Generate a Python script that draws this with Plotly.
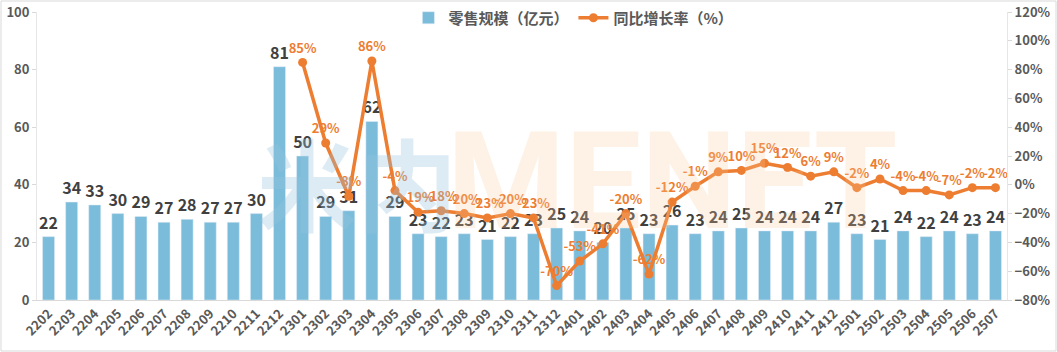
import plotly.graph_objects as go

months = ["2202","2203","2204","2205","2206","2207","2208","2209","2210","2211","2212",
          "2301","2302","2303","2304","2305","2306","2307","2308","2309","2310","2311","2312",
          "2401","2402","2403","2404","2405","2406","2407","2408","2409","2410","2411","2412",
          "2501","2502","2503","2504","2505","2506","2507"]
retail = [22,34,33,30,29,27,28,27,27,30,81,
          50,29,31,62,29,23,22,23,21,22,23,25,
          24,20,25,23,26,23,24,25,24,24,24,27,
          23,21,24,22,24,23,24]
growth = [None]*11 + [85,29,-8,86,-4,-19,-18,-20,-23,-20,-23,-70,
                      -53,-41,-20,-62,-12,-1,9,10,15,12,6,9,
                      -2,4,-4,-4,-7,-2,-2]

FONT = "Noto Sans CJK SC"
BLUE = "#7BBCDA"
ORANGE = "#ED7D31"

growth_text = [None if g is None else f"{g}%" for g in growth]

fig = go.Figure()
fig.add_trace(go.Bar(
    x=months, y=retail, name="零售规模（亿元）",
    marker=dict(color=BLUE),
    text=[str(v) for v in retail], textposition="outside", constraintext="none",
    textfont=dict(family=FONT, size=16, color="#404040", weight="bold"),
    cliponaxis=False, yaxis="y",
))
fig.add_trace(go.Scatter(
    x=months, y=growth, name="同比增长率（%）",
    mode="lines+markers+text",
    line=dict(color=ORANGE, width=3.5),
    marker=dict(color=ORANGE, size=9),
    text=growth_text, textposition="top center",
    textfont=dict(family=FONT, size=13, color=ORANGE, weight="bold"),
    cliponaxis=False, yaxis="y2", connectgaps=False,
))

fig.update_layout(
    width=1057, height=352,
    margin=dict(l=37, r=50, t=12, b=52, autoexpand=False),
    paper_bgcolor="white", plot_bgcolor="white",
    font=dict(family=FONT, color="#595959"),
    bargap=0.48,
    showlegend=True,
    legend=dict(orientation="h", x=0.553, xanchor="center",
                y=1 - 18 / 352, yref="container", yanchor="middle",
                font=dict(family=FONT, size=15, color="#595959", weight="bold"),
                bgcolor="rgba(0,0,0,0)", traceorder="normal"),
    xaxis=dict(type="category", range=[-0.5, len(months) - 0.5], autorange=False,
               tickangle=-45, tickmode="array", tickvals=months, ticktext=months,
               showgrid=False,
               showline=True, linecolor="#D9D9D9", linewidth=1,
               ticks="", tickfont=dict(family=FONT, size=13, color="#595959", weight="bold")),
    yaxis=dict(range=[0, 100], dtick=20, showgrid=False, zeroline=False,
               showline=True, linecolor="#E6E6E6", ticks="outside", ticklen=4,
               tickcolor="#D9D9D9",
               tickfont=dict(family=FONT, size=13, color="#595959", weight="bold")),
    yaxis2=dict(range=[-80, 120], dtick=20, overlaying="y", side="right",
                showgrid=False, zeroline=False, ticksuffix="%",
                showline=True, linecolor="#E6E6E6", ticks="outside", ticklen=4,
                tickcolor="#D9D9D9",
                tickfont=dict(family=FONT, size=13, color="#595959", weight="bold")),
)

# watermark
fig.add_annotation(text="米内", xref="paper", yref="paper",
                   x=(255 - 37) / 970, y=1 - (180 - 12) / 288, xanchor="left", yanchor="middle",
                   showarrow=False,
                   font=dict(family=FONT, size=100, color="rgba(150,195,222,0.33)", weight="bold"))
fig.add_annotation(text="MENET", xref="paper", yref="paper",
                   x=(445 - 37) / 970, y=1 - (182 - 12) / 288, xanchor="left", yanchor="middle",
                   showarrow=False,
                   font=dict(family="Roboto", size=135, color="rgba(250,200,150,0.25)", weight="bold"))

# outer border
W, P = 970, 288
fig.add_shape(type="rect", xref="paper", yref="paper",
              x0=-36 / W, x1=1 + 49 / W, y0=-51 / P, y1=1 + 11 / P,
              line=dict(color="#D9D9D9", width=1), layer="below")

fig.write_html("out.html")
